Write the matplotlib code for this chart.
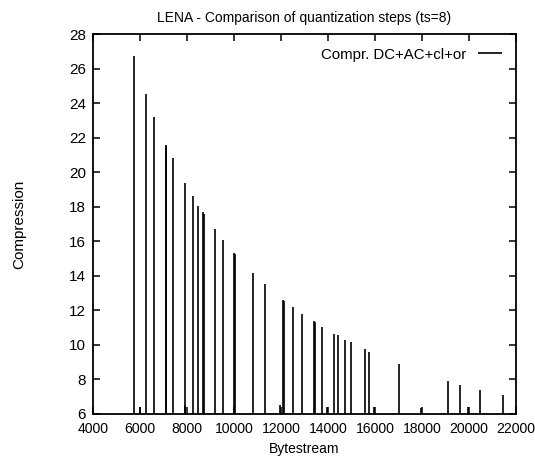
import matplotlib.pyplot as plt

# Bytestream positions and compression values (impulses)
bytestream = [5760, 6000, 6255, 6610, 7100, 7125, 7390, 7900, 7930, 8240, 8455,
              8690, 8740, 9190, 9520, 10000, 10035, 10795, 11305, 11950, 12070,
              12120, 12510, 12905, 13400, 13430, 13755, 13970, 14265, 14410,
              14735, 14965, 15560, 15745, 15955, 17035, 17945, 19135, 19615,
              19955, 20465, 21475]
compression = [26.75, 6.4, 24.55, 23.2, 21.6, 21.5, 20.85, 6.5, 19.4, 18.6, 18.05,
               17.7, 17.6, 16.7, 16.1, 15.3, 15.25, 14.15, 13.5, 6.5, 12.6,
               12.55, 12.2, 11.8, 11.4, 11.35, 11.05, 6.4, 10.65, 10.55,
               10.3, 10.15, 9.75, 9.6, 6.4, 8.9, 6.35, 7.9, 7.7,
               6.4, 7.4, 7.1]

xticks = list(range(4000, 22001, 2000))
yticks = list(range(6, 29, 2))

plt.rcParams['font.family'] = ['Liberation Sans', 'DejaVu Sans']

fig = plt.figure(figsize=(5.35, 4.61), dpi=100)
ax = fig.add_axes([0.174, 0.102, 0.790, 0.824])

ax.vlines(bytestream, 6, compression, colors='black', linewidth=1.2,
          label='Compr. DC+AC+cl+or')

ax.set_xlim(4000, 22000)
ax.set_ylim(6, 28)
ax.set_xticks(xticks)
ax.set_yticks(yticks)
ax.tick_params(direction='in', length=5, width=1.1, top=True, right=True)
ax.tick_params(axis='x', labelsize=10.1, pad=6)
ax.tick_params(axis='y', labelsize=11, pad=5)
for s in ax.spines.values():
    s.set_linewidth(1.3)

ax.set_title('LENA - Comparison of quantization steps (ts=8)', fontsize=10, pad=9)
ax.set_xlabel('Bytestream', fontsize=10, labelpad=4)
ax.set_ylabel('Compression', fontsize=11, labelpad=31)

ax.legend(loc='upper right', frameon=False, markerfirst=False, handlelength=1.6,
          fontsize=10.8, borderaxespad=0.5)

fig.savefig('out.png', dpi=100)
